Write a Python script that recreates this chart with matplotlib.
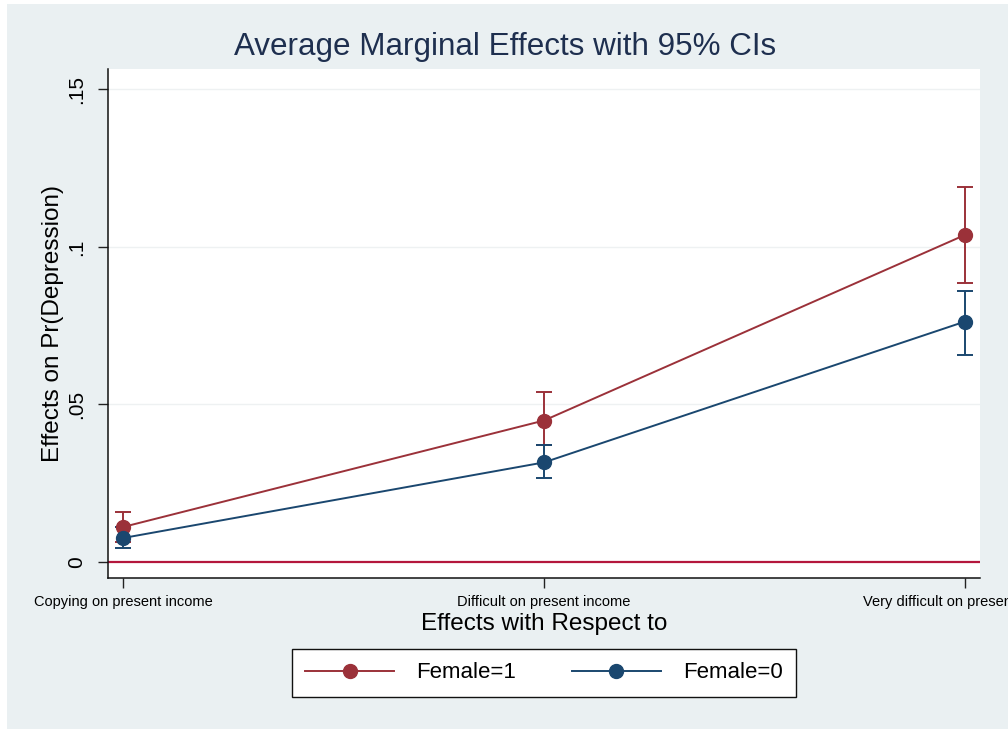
import matplotlib.pyplot as plt
from matplotlib.lines import Line2D
from matplotlib.patches import Rectangle

plt.rcParams['font.family'] = ['Liberation Sans', 'DejaVu Sans']

categories = ['Copying on present income', 'Difficult on present income',
              'Very difficult on present income']
x = [0, 1, 2]

# margins for each group: point estimate with 95% CI
female1 = [0.0111, 0.0449, 0.1038]
female1_lo = [0.0064, 0.0370, 0.0886]
female1_hi = [0.0158, 0.0538, 0.1190]

female0 = [0.0076, 0.0316, 0.0763]
female0_lo = [0.0044, 0.0266, 0.0658]
female0_hi = [0.0110, 0.0370, 0.0861]

yticks = [0, 0.05, 0.1, 0.15]
ytick_labels = ['0', '.05', '.1', '.15']

bg = '#eaf0f2'
maroon = '#9b3139'
navy = '#1a476f'

fig = plt.figure(figsize=(10.08, 7.29), dpi=100, facecolor='white')
fig.patches.append(Rectangle((7 / 1008, 0), 1, 1 - 4 / 729,
                             transform=fig.transFigure, facecolor=bg,
                             edgecolor='none', zorder=-10))

ax = fig.add_axes([108 / 1008, 1 - 578 / 729, (980 - 108) / 1008, (578 - 69) / 729])
ax.set_facecolor('white')

for vals, lo, hi, col in [(female1, female1_lo, female1_hi, maroon),
                          (female0, female0_lo, female0_hi, navy)]:
    err = [[v - l for v, l in zip(vals, lo)], [h - v for v, h in zip(vals, hi)]]
    ax.errorbar(x, vals, yerr=err, fmt='none', ecolor=col, elinewidth=1.4,
                capsize=6, capthick=1.4, zorder=3)
    ax.plot(x, vals, color=col, lw=1.4, marker='o', markersize=10, zorder=4)

ax.axhline(0, color='#b4173c', lw=1.6, zorder=2)
for yv in yticks[1:]:
    ax.axhline(yv, color='#eef1f2', lw=1.0, zorder=1)

ax.set_xlim(-0.036, 2.036)
ax.set_ylim(-0.0051, 0.1565)
ax.set_xticks(x)
ax.set_xticklabels(categories, fontsize=10.5)
ax.set_yticks(yticks)
ax.set_yticklabels(ytick_labels, fontsize=15, rotation=90, va='center')
ax.tick_params(axis='both', direction='out', length=7, width=1, color='#222222')
ax.tick_params(axis='x', pad=5)
ax.tick_params(axis='y', pad=9)

for s in ['top', 'right']:
    ax.spines[s].set_visible(False)
for s in ['left', 'bottom']:
    ax.spines[s].set_color('#111111')
    ax.spines[s].set_linewidth(1.1)

ax.set_xlabel('Effects with Respect to', fontsize=17.5, labelpad=3)
ax.set_ylabel('Effects on Pr(Depression)', fontsize=17.5, labelpad=2)
fig.text(0.501, 1 - 47 / 729, 'Average Marginal Effects with 95% CIs',
         fontsize=22.6, color='#1e2f4f', ha='center', va='center')

handles = [Line2D([], [], color=maroon, lw=1.4, marker='o', markersize=10),
           Line2D([], [], color=navy, lw=1.4, marker='o', markersize=10)]
leg = fig.legend(handles, ['Female=1', 'Female=0'], ncol=2, loc='center',
                 bbox_to_anchor=(544 / 1008, 1 - 673 / 729), fontsize=16,
                 frameon=True, fancybox=False, handlelength=4.0,
                 columnspacing=2.5, handletextpad=1.0, borderpad=0.6,
                 framealpha=1)
leg.get_frame().set_facecolor('white')
leg.get_frame().set_edgecolor('#111111')
leg.get_frame().set_linewidth(1.0)

fig.savefig('out.png', dpi=100, facecolor='white')
